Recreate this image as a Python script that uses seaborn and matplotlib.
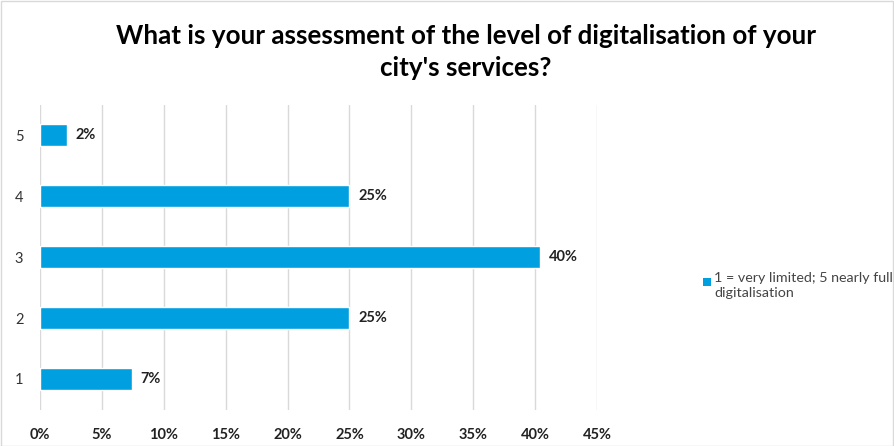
import matplotlib
matplotlib.use("Agg")
import matplotlib.pyplot as plt
import matplotlib.patches as mpatches
import seaborn as sns
import pandas as pd

# Survey answers: share of respondents per rating (percent)
ratings = ["5", "4", "3", "2", "1"]
shares = [2.2, 25.0, 40.4, 25.0, 7.4]
x_ticks = [0, 5, 10, 15, 20, 25, 30, 35, 40, 45]
title = "What is your assessment of the level of digitalisation of your\ncity's services?"
legend_label = "1 = very limited; 5 nearly full\ndigitalisation"

bar_color = "#009FDF"
grid_color = "#D9D9D9"

sns.set_theme(style="white")
plt.rcParams["font.family"] = ["Lato", "DejaVu Sans"]

df = pd.DataFrame({"rating": ratings, "share": shares})

fig = plt.figure(figsize=(8.94, 4.46), dpi=100)
W, H = 894, 446
ax = fig.add_axes([40 / W, 1 - 409.5 / H, (597 - 40) / W, (409.5 - 104.5) / H])

sns.barplot(data=df, y="rating", x="share", order=ratings, orient="h",
            color=bar_color, width=0.36, saturation=1, ax=ax, zorder=3)

ax.set_xlim(0, 45)
ax.set_xticks(x_ticks)
ax.set_xticklabels([f"{t}%" for t in x_ticks], fontsize=10.5, fontweight="bold", color="#222222")
ax.tick_params(axis="x", length=0, pad=13)
ax.tick_params(axis="y", length=0, pad=12, labelsize=10.5, labelcolor="#333333")
for t in x_ticks:
    ax.axvline(t, color=grid_color, lw=1, zorder=1)
for s in ax.spines.values():
    s.set_visible(False)
ax.set_xlabel("")
ax.set_ylabel("")

for i, v in enumerate(shares):
    ax.text(v + 0.7, i, f"{v:.0f}%", va="center", ha="left",
            fontsize=10.5, fontweight="bold", color="#222222")

fig.text(466 / W, 1 - 52 / H, title, ha="center", va="center", fontsize=18.7,
         fontweight="bold", color="black", linespacing=1.4)

# Legend: colour key square next to a two-line label
fig.add_artist(mpatches.Rectangle((703 / W, 1 - 285.5 / H), 7.5 / W, 7.5 / H,
                                  transform=fig.transFigure, facecolor=bar_color,
                                  edgecolor="none"))
fig.text(714 / W, 1 - 272 / H, legend_label, ha="left", va="top",
         fontsize=10.3, color="#444444", linespacing=1.3)

fig.add_artist(mpatches.Rectangle((0.5 / W, 0.5 / H), 1 - 1.5 / W, 1 - 1.5 / H,
                                  transform=fig.transFigure, fill=False,
                                  edgecolor="#D9D9D9", lw=1))

fig.savefig("out.png", dpi=100)
